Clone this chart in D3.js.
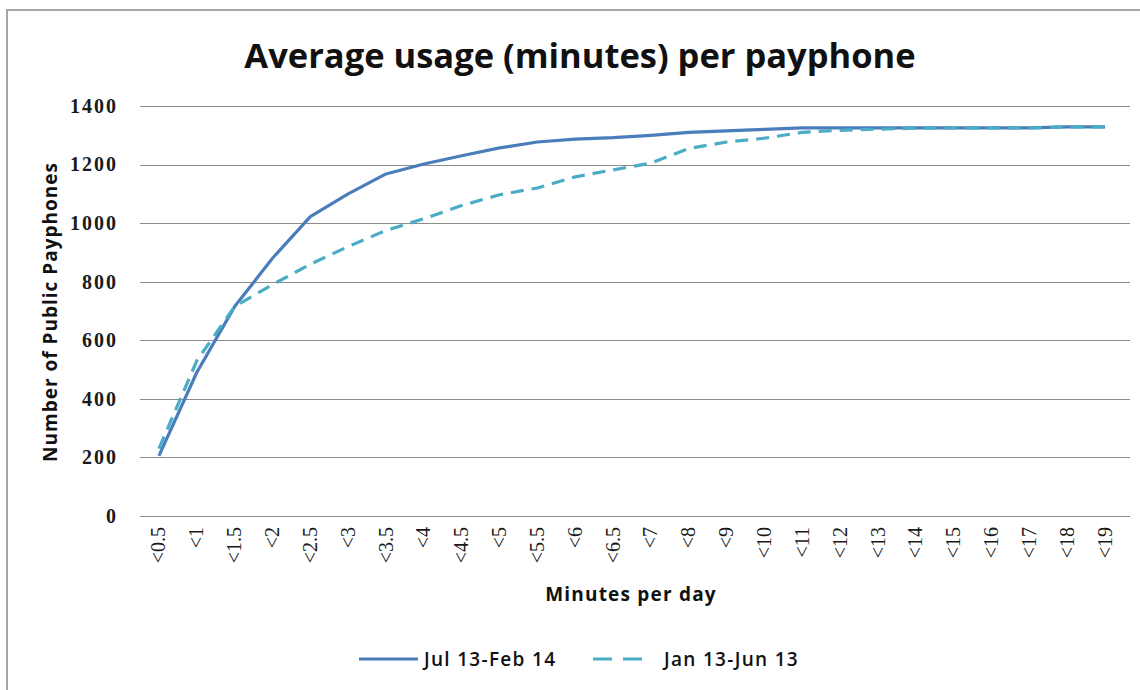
<!DOCTYPE html>
<html>
<head>
<meta charset="utf-8">
<script src="https://cdn.jsdelivr.net/npm/d3@7"></script>
<style>
  html, body { margin: 0; padding: 0; background: #fff; }
  svg { display: block; }
</style>
</head>
<body>
<svg id="chart" width="1140" height="690"></svg>
<script>
// Cumulative count of payphones by average daily usage
const categories = ["<0.5", "<1", "<1.5", "<2", "<2.5", "<3", "<3.5", "<4", "<4.5", "<5",
  "<5.5", "<6", "<6.5", "<7", "<8", "<9", "<10", "<11", "<12", "<13", "<14", "<15",
  "<16", "<17", "<18", "<19"];
const julFeb = [205, 490, 715, 880, 1022, 1100, 1168, 1202, 1230, 1257, 1277, 1287, 1292,
  1300, 1310, 1315, 1320, 1325, 1325, 1325, 1325, 1325, 1325, 1325, 1329, 1329];
const janJun = [230, 530, 715, 790, 860, 920, 975, 1015, 1060, 1097, 1120, 1158, 1182,
  1205, 1255, 1277, 1290, 1310, 1317, 1321, 1324, 1325, 1325, 1325, 1329, 1329];
const yTicks = [0, 200, 400, 600, 800, 1000, 1200, 1400];

const series = [
  { name: "Jul 13-Feb 14", values: julFeb, color: "#4a7ebb", dash: null, legendDash: null },
  { name: "Jan 13-Jun 13", values: janJun, color: "#4bacc6", dash: "13,8", legendDash: "19,11" }
];

const svg = d3.select("#chart");
const plot = { left: 140, right: 1124, top: 106, bottom: 516 };

// outer chart frame
svg.append("rect")
  .attr("x", 7).attr("y", 10)
  .attr("width", 1150).attr("height", 700)
  .attr("fill", "none").attr("stroke", "#a6a6a6").attr("stroke-width", 2);

const x = d3.scalePoint().domain(categories)
  .range([plot.left, plot.right]).padding(0.5);
const y = d3.scaleLinear().domain([0, 1400]).range([plot.bottom, plot.top]);

// horizontal gridlines
svg.append("g")
  .selectAll("line").data(yTicks).join("line")
  .attr("x1", plot.left).attr("x2", plot.right + 6)
  .attr("y1", d => Math.round(y(d)) + 0.5).attr("y2", d => Math.round(y(d)) + 0.5)
  .attr("stroke", "#8c8c8c").attr("stroke-width", 1.2);

// y axis labels
const yAxis = d3.axisLeft(y).tickValues(yTicks).tickFormat(d3.format("d"))
  .tickSize(0).tickPadding(22);
const gy = svg.append("g").attr("transform", `translate(${plot.left},0)`).call(yAxis);
gy.select(".domain").remove();
gy.selectAll("text")
  .attr("font-family", "Liberation Serif, serif")
  .attr("font-weight", "bold")
  .attr("font-size", 20)
  .attr("letter-spacing", 2)
  .attr("fill", "#1a1a1a");

// x axis labels, rotated
const xAxis = d3.axisBottom(x).tickSize(0).tickPadding(0);
const gx = svg.append("g").attr("transform", `translate(0,${plot.bottom})`).call(xAxis);
gx.select(".domain").remove();
gx.selectAll("text")
  .attr("font-family", "Liberation Serif, serif")
  .attr("font-size", 20)
  .attr("fill", "#1a1a1a")
  .attr("text-anchor", "end")
  .attr("dy", null)
  .attr("transform", "translate(6,11) rotate(-90)");

// lines
const line = d3.line()
  .x((d, i) => x(categories[i]))
  .y(d => y(d));

svg.append("g").selectAll("path").data(series).join("path")
  .attr("d", d => line(d.values))
  .attr("fill", "none")
  .attr("stroke", d => d.color)
  .attr("stroke-width", 3.2)
  .attr("stroke-linejoin", "round")
  .attr("stroke-dasharray", d => d.dash);

// title
svg.append("text")
  .attr("x", 580).attr("y", 68)
  .attr("text-anchor", "middle")
  .attr("font-family", "Open Sans, sans-serif")
  .attr("font-weight", "bold")
  .attr("font-size", 34.5)
  .attr("fill", "#111")
  .text("Average usage (minutes) per payphone");

// axis titles
svg.append("text")
  .attr("transform", "translate(57,312) rotate(-90)")
  .attr("text-anchor", "middle")
  .attr("font-family", "Open Sans, sans-serif")
  .attr("font-weight", "bold")
  .attr("font-size", 19)
  .attr("letter-spacing", 1)
  .attr("fill", "#111")
  .text("Number of Public Payphones");

svg.append("text")
  .attr("x", 631).attr("y", 601)
  .attr("text-anchor", "middle")
  .attr("font-family", "Open Sans, sans-serif")
  .attr("font-weight", "bold")
  .attr("font-size", 19)
  .attr("letter-spacing", 1.2)
  .attr("fill", "#111")
  .text("Minutes per day");

// legend
const legend = svg.append("g");
const legendItems = [
  { s: series[0], x1: 359, x2: 418, tx: 424 },
  { s: series[1], x1: 593, x2: 642, tx: 664 }
];
legendItems.forEach(it => {
  legend.append("line")
    .attr("x1", it.x1).attr("x2", it.x2)
    .attr("y1", 659).attr("y2", 659)
    .attr("stroke", it.s.color).attr("stroke-width", 3.2)
    .attr("stroke-dasharray", it.s.legendDash);
  legend.append("text")
    .attr("x", it.tx).attr("y", 666)
    .attr("font-family", "Open Sans, sans-serif")
    .attr("font-weight", 600)
    .attr("font-size", 19)
    .attr("letter-spacing", 1.3)
    .attr("fill", "#111")
    .text(it.s.name);
});
</script>
</body>
</html>
